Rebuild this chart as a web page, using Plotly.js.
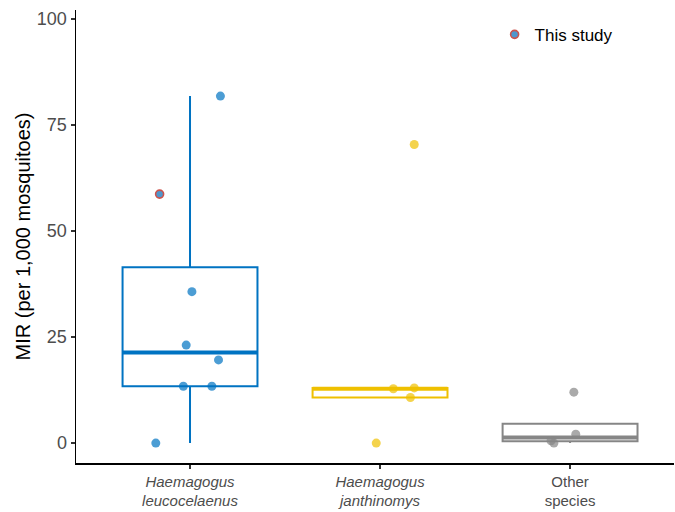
<!DOCTYPE html>
<html>
<head>
<meta charset="utf-8">
<script src="https://cdn.plot.ly/plotly-3.0.1.min.js"></script>
<style>html,body{margin:0;padding:0;background:#fff;}#chart{width:675px;height:512px;}</style>
</head>
<body>
<div id="chart"></div>
<script>
// ---- data ----
const categories = ['Haemagogus leucocelaenus', 'Haemagogus janthinomys', 'Other species'];
const tickLabels = ['<i>Haemagogus</i><br><i>leucocelaenus</i>', '<i>Haemagogus</i><br><i>janthinomys</i>', 'Other<br>species'];

const leucoMIR = [81.8, 58.7, 35.7, 23.1, 19.6, 13.4, 13.4, 0];
const leucoJitter = [0.16, -0.16, 0.01, -0.02, 0.15, -0.035, 0.115, -0.18];
const leucoThisStudy = [false, true, false, false, false, false, false, false];

const janthMIR = [70.4, 13.0, 12.8, 10.75, 0];
const janthJitter = [0.18, 0.18, 0.07, 0.16, -0.02];

const otherMIR = [12.0, 2.1, 0.55, 0];
const otherJitter = [0.02, 0.03, -0.1, -0.085];

const boxColors = ['#0073C2', '#EFC000', '#868686'];
const pointColors = ['rgba(0,115,194,0.7)', 'rgba(239,192,0,0.7)', 'rgba(134,134,134,0.7)'];
const studyEdge = '#CD534C';

// ---- stats (R type-7 quantiles, Tukey whiskers) ----
function quant(sorted, p) {
  const h = (sorted.length - 1) * p, lo = Math.floor(h), hi = Math.ceil(h);
  return sorted[lo] + (h - lo) * (sorted[hi] - sorted[lo]);
}
function stats(vals) {
  const s = vals.slice().sort((a, b) => a - b);
  const q1 = quant(s, 0.25), med = quant(s, 0.5), q3 = quant(s, 0.75);
  const iqr = q3 - q1;
  const lf = Math.min(...s.filter(v => v >= q1 - 1.5 * iqr));
  const uf = Math.max(...s.filter(v => v <= q3 + 1.5 * iqr));
  return {q1, med, q3, lf, uf};
}

const groups = [
  {vals: leucoMIR, jit: leucoJitter, study: leucoThisStudy},
  {vals: janthMIR, jit: janthJitter, study: janthMIR.map(() => false)},
  {vals: otherMIR, jit: otherJitter, study: otherMIR.map(() => false)}
];

const BW = 0.71;
const traces = [];
groups.forEach((g, i) => {
  const st = stats(g.vals);
  const xc = i + 1;
  traces.push({
    type: 'box', x: [xc], q1: [st.q1], median: [st.med], q3: [st.q3],
    lowerfence: [st.lf], upperfence: [st.uf], width: BW, whiskerwidth: 0,
    boxpoints: false, line: {color: boxColors[i], width: 2}, fillcolor: 'rgba(255,255,255,0)',
    showlegend: false, hoverinfo: 'skip'
  });
  traces.push({
    type: 'scatter', mode: 'lines', x: [xc - BW / 2, xc + BW / 2], y: [st.med, st.med],
    line: {color: boxColors[i], width: 4}, showlegend: false, hoverinfo: 'skip'
  });
});
groups.forEach((g, i) => {
  const xs = [], ys = [];
  g.vals.forEach((v, k) => { if (!g.study[k]) { xs.push(i + 1 + g.jit[k]); ys.push(v); } });
  traces.push({
    type: 'scatter', mode: 'markers', x: xs, y: ys, showlegend: false,
    marker: {color: pointColors[i], size: 9, line: {width: 0}}
  });
  const sx = [], sy = [];
  g.vals.forEach((v, k) => { if (g.study[k]) { sx.push(i + 1 + g.jit[k]); sy.push(v); } });
  if (sx.length) {
    traces.push({
      type: 'scatter', mode: 'markers', x: sx, y: sy, name: 'This study', showlegend: true,
      marker: {color: 'rgba(60,140,200,0.9)', size: 8, line: {color: studyEdge, width: 1.6}}
    });
  }
});

const layout = {
  width: 675, height: 512,
  margin: {l: 76, r: 1, t: 10, b: 49},
  paper_bgcolor: '#fff', plot_bgcolor: '#fff',
  font: {family: 'Liberation Sans, Arial, sans-serif', color: '#000'},
  showlegend: true,
  legend: {x: 0.7, y: 0.985, xanchor: 'left', yanchor: 'top', bgcolor: 'rgba(0,0,0,0)',
           font: {size: 17, color: '#000'}, itemwidth: 30},
  xaxis: {
    range: [0.4, 3.547], tickmode: 'array', tickvals: [1, 2, 3], ticktext: tickLabels,
    showline: true, linecolor: '#000', linewidth: 1.5, ticks: 'outside', ticklen: 4,
    tickcolor: '#333', tickwidth: 1.2, showgrid: false, zeroline: false,
    tickfont: {size: 15, color: '#4d4d4d'}
  },
  yaxis: {
    range: [-4.7, 102.1], tickmode: 'array', tickvals: [0, 25, 50, 75, 100],
    showline: true, linecolor: '#000', linewidth: 1.5, ticks: 'outside', ticklen: 4,
    tickcolor: '#333', tickwidth: 1.2, showgrid: false, zeroline: false,
    tickfont: {size: 18, color: '#4d4d4d'},
    title: {text: 'MIR (per 1,000 mosquitoes)', font: {size: 20, color: '#000'}, standoff: 1}
  }
};

Plotly.newPlot('chart', traces, layout, {displayModeBar: false, staticPlot: true});
</script>
</body>
</html>
